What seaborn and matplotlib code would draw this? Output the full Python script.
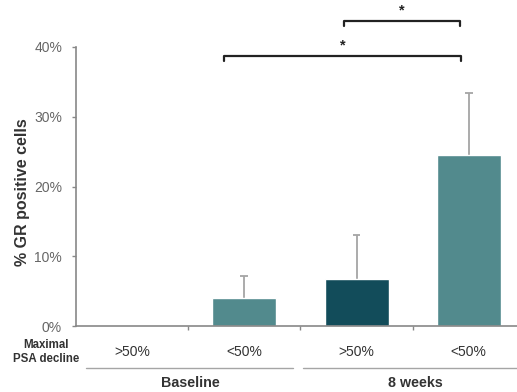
import matplotlib
matplotlib.use("Agg")
import matplotlib.pyplot as plt
import seaborn as sns
import pandas as pd

# values (percent GR positive cells)
groups = ["Baseline", "Baseline", "8 weeks", "8 weeks"]
psa_decline = [">50%", "<50%", ">50%", "<50%"]
gr_positive = [0.0, 4.0, 6.7, 24.5]
err_upper = [0.0, 3.2, 6.3, 8.9]
bar_keys = ["b_gt", "b_lt", "w_gt", "w_lt"]
bar_colors = ["#528A8D", "#528A8D", "#124C5A", "#528A8D"]

df = pd.DataFrame({"key": bar_keys, "group": groups, "psa": psa_decline,
                   "value": gr_positive, "err": err_upper})

sns.set_style("white")
plt.rcParams['font.family'] = ['Liberation Sans', 'DejaVu Sans']

fig = plt.figure(figsize=(5.17, 3.92), dpi=100)
ax = fig.add_axes([76 / 517, 66 / 392, 441 / 517, 279 / 392])

sns.barplot(data=df, x="key", y="value", hue="key", palette=bar_colors,
            order=bar_keys, width=0.57, legend=False, ax=ax, saturation=1, zorder=2)

# upper-only error bars (no cap at the bar top)
for i, row in df.iterrows():
    if row["err"] > 0:
        top = row["value"] + row["err"]
        ax.vlines(i, row["value"], top, color="#A5A5A5", lw=1.3, zorder=1)
        ax.hlines(top, i - 0.035, i + 0.035, color="#A5A5A5", lw=1.3, zorder=1)

ax.set_ylim(0, 40)
ax.set_xlim(-0.5, 3.43)
ax.set_yticks([0, 10, 20, 30, 40])
ax.set_yticklabels([f"{t}%" for t in [0, 10, 20, 30, 40]])
ax.set_xticks(range(4))
ax.set_xticklabels(psa_decline)
ax.set_xticks([0.5, 1.5, 2.5], minor=True)
ax.tick_params(axis="x", which="major", length=0, pad=13.5, labelsize=10, labelcolor="#333333")
ax.tick_params(axis="x", which="minor", length=3, direction="out", color="#888888", width=1, bottom=True)
ax.tick_params(axis="y", length=3, direction="out", color="#888888", width=1, left=True,
               labelsize=10, labelcolor="#666666", pad=7)

ax.set_xlabel("")
ax.set_ylabel("% GR positive cells", fontsize=11.5, fontweight="bold", color="#333333")
ax.yaxis.set_label_coords(-0.104, 0.48)

sns.despine(ax=ax)
for side in ["left", "bottom"]:
    ax.spines[side].set_color("#888888")
    ax.spines[side].set_linewidth(1.2)

tr = ax.get_xaxis_transform()
ax.text(-0.77, -0.093, "Maximal\nPSA decline", transform=tr, ha="center", va="center",
        fontsize=8.3, fontweight="bold", color="#333333", linespacing=1.15)

# group lines and labels
ax.plot([-0.41, 1.43], [-0.15, -0.15], transform=tr, clip_on=False, color="#A5A5A5", lw=1)
ax.plot([1.52, 3.43], [-0.15, -0.15], transform=tr, clip_on=False, color="#A5A5A5", lw=1)
ax.text(0.52, -0.206, "Baseline", transform=tr, ha="center", va="center",
        fontsize=10.3, fontweight="bold", color="#333333")
ax.text(2.52, -0.206, "8 weeks", transform=tr, ha="center", va="center",
        fontsize=10.3, fontweight="bold", color="#333333")

# significance brackets
def bracket(x0, x1, y, h=0.7):
    ax.plot([x0, x0, x1, x1], [y - h, y, y, y - h], color="#222222", lw=1.6, clip_on=False)
    ax.text((x0 + x1) / 2, y + 0.5, "*", ha="center", va="bottom", fontsize=10.5,
            fontweight="bold", color="#222222", clip_on=False)

bracket(0.82, 2.93, 38.7)
bracket(1.89, 2.92, 43.7)

fig.savefig("out.png", dpi=100)
